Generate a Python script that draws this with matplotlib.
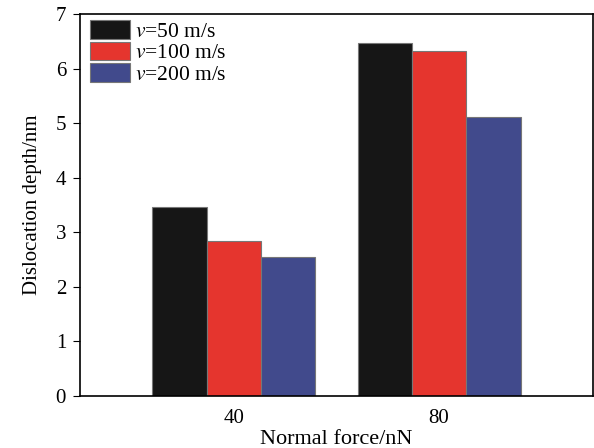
import numpy as np
import matplotlib
matplotlib.use("Agg")
import matplotlib.pyplot as plt

plt.rcParams['font.family'] = ['Liberation Serif', 'DejaVu Serif']
plt.rcParams['mathtext.fontset'] = 'stix'

forces = ['40', '80']
speeds = ['50', '100', '200']
depth_50 = [3.46, 6.47]
depth_100 = [2.84, 6.33]
depth_200 = [2.54, 5.12]
colors = ['#161616', '#e5352e', '#414a8c']

fig = plt.figure(figsize=(5.94, 4.48), dpi=100)
ax = fig.add_axes([80 / 594, 52 / 448, 513 / 594, 382 / 448])

x = np.arange(len(forces))
w = 0.265
series = [depth_50, depth_100, depth_200]
for i, (vals, c, s) in enumerate(zip(series, colors, speeds)):
    ax.bar(x + (i - 1) * w, vals, width=w, color=c, edgecolor='#777777',
           linewidth=0.8, label=r'$\it{v}$=' + s + ' m/s')

ax.set_xlim(-0.75, 1.75)
ax.set_ylim(0, 7)
ax.set_xticks(x)
ax.set_xticklabels(forces)
ax.set_yticks(range(8))
ax.tick_params(axis='x', length=0, labelsize=15, pad=9)
ax.tick_params(axis='y', direction='out', length=5, labelsize=15, pad=5)
for sp in ax.spines.values():
    sp.set_linewidth(1.2)

ax.set_xlabel('Normal force/nN', fontsize=16, labelpad=2)
ax.set_ylabel('Dislocation depth/nm', fontsize=15, labelpad=10)

ax.legend(loc='upper left', bbox_to_anchor=(10 / 513, 1 - 6 / 382), frameon=False,
          fontsize=15.5, handlelength=1.85, handleheight=0.95, labelspacing=0.0,
          handletextpad=0.25, borderaxespad=0, borderpad=0)

fig.savefig('out.png', dpi=100)
